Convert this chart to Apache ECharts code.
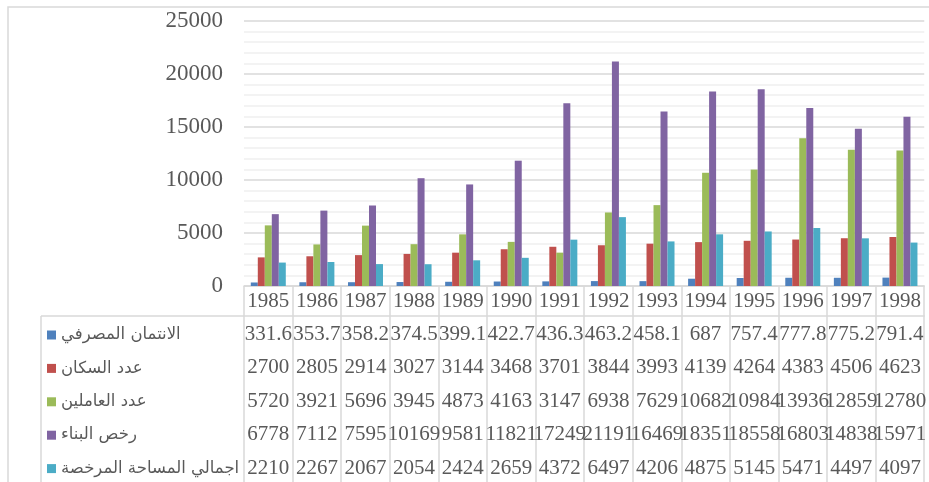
<!DOCTYPE html>
<html>
<head>
<meta charset="utf-8">
<script src="https://cdn.jsdelivr.net/npm/echarts@6/dist/echarts.min.js"></script>
<style>
  html, body { margin: 0; padding: 0; background: #fff; }
  #chart { width: 929px; height: 482px; }
</style>
</head>
<body>
<div id="chart"></div>
<script>
// Years shown on the category axis and in the table header
const years = ['1985','1986','1987','1988','1989','1990','1991','1992','1993','1994','1995','1996','1997','1998'];

// Series names (legend / table row titles)
const seriesNames = ['الانتمان المصرفي', 'عدد السكان', 'عدد العاملين', 'رخص البناء', 'اجمالي المساحة المرخصة'];

// Values per series
const bankCredit   = [331.6, 353.7, 358.2, 374.5, 399.1, 422.7, 436.3, 463.2, 458.1, 687, 757.4, 777.8, 775.2, 791.4];
const population   = [2700, 2805, 2914, 3027, 3144, 3468, 3701, 3844, 3993, 4139, 4264, 4383, 4506, 4623];
const workers      = [5720, 3921, 5696, 3945, 4873, 4163, 3147, 6938, 7629, 10682, 10984, 13936, 12859, 12780];
const permits      = [6778, 7112, 7595, 10169, 9581, 11821, 17249, 21191, 16469, 18351, 18558, 16803, 14838, 15971];
const licensedArea = [2210, 2267, 2067, 2054, 2424, 2659, 4372, 6497, 4206, 4875, 5145, 5471, 4497, 4097];

// Y axis ticks
const yTicks = { min: 0, max: 25000, interval: 5000 };

const seriesValues = [bankCredit, population, workers, permits, licensedArea];
const colors = ['#4F81BD', '#C0504D', '#9BBB59', '#8064A2', '#4BACC6'];

const gridColor = '#d9d9d9';
const textColor = '#595959';
const serif = '"Liberation Serif", "Times New Roman", serif';
const rowStep = 33.4;   // height of one table row

const chart = echarts.init(document.getElementById('chart'));

// Header row axis (years) plus one label-only axis per table row
const xAxes = [{
  type: 'category',
  data: years,
  position: 'bottom',
  axisLine: { show: true, lineStyle: { color: gridColor, width: 1.5 } },
  axisTick: { show: true, length: 200, lineStyle: { color: gridColor, width: 1.5 } },
  axisLabel: { interval: 0, margin: 5, fontSize: 21, fontFamily: serif, color: textColor }
}];
seriesValues.forEach((vals, k) => {
  xAxes.push({
    type: 'category',
    data: years,
    position: 'bottom',
    offset: 30 + k * rowStep,
    axisLine: { show: k === 0, lineStyle: { color: gridColor, width: 1.5 } },
    axisTick: { show: false },
    axisLabel: {
      interval: 0,
      margin: 8,
      fontSize: 21,
      fontFamily: serif,
      color: textColor,
      hideOverlap: false,
      formatter: (v, i) => String(vals[i])
    }
  });
});

// One single-entry legend per table row, so each title sits on its row
const legends = seriesNames.map((name, k) => ({
  orient: 'horizontal',
  left: 47,
  top: 326.5 + k * rowStep,
  padding: 0,
  icon: 'rect',
  itemWidth: 9,
  itemHeight: 9,
  itemGap: 0,
  selectedMode: false,
  textStyle: { fontSize: 16.5, color: textColor, fontFamily: '"DejaVu Sans", sans-serif' },
  data: [name]
}));

chart.setOption({
  animation: false,
  backgroundColor: '#fff',
  grid: { left: 244, top: 21, width: 686, height: 265, containLabel: false },
  legend: legends,
  xAxis: xAxes,
  yAxis: {
    type: 'value',
    min: yTicks.min,
    max: yTicks.max,
    interval: yTicks.interval,
    axisLine: { show: false },
    axisTick: { show: false },
    axisLabel: { margin: 21, fontSize: 23, fontFamily: serif, color: textColor, formatter: v => String(v) },
    splitLine: { lineStyle: { color: gridColor, width: 1.5 } },
    minorTick: { show: false, splitNumber: 5 },
    minorSplitLine: { show: true, lineStyle: { color: '#f0f0f0', width: 1.5 } }
  },
  series: seriesNames.map((name, i) => ({
    name,
    type: 'bar',
    xAxisIndex: 0,
    data: seriesValues[i],
    barWidth: 7,
    barGap: '0%',
    itemStyle: { color: colors[i] }
  })),
  graphic: [
    // outer chart frame
    { type: 'rect', shape: { x: 8, y: 7, width: 1000, height: 1000 },
      style: { fill: 'none', stroke: gridColor, lineWidth: 1.5 }, silent: true },
    // table: left part of the header rule and the left border of the row titles
    { type: 'line', shape: { x1: 41, y1: 316, x2: 244, y2: 316 },
      style: { stroke: gridColor, lineWidth: 1.5 }, silent: true },
    { type: 'line', shape: { x1: 41, y1: 316, x2: 41, y2: 482 },
      style: { stroke: gridColor, lineWidth: 1.5 }, silent: true }
  ]
});
</script>
</body>
</html>
